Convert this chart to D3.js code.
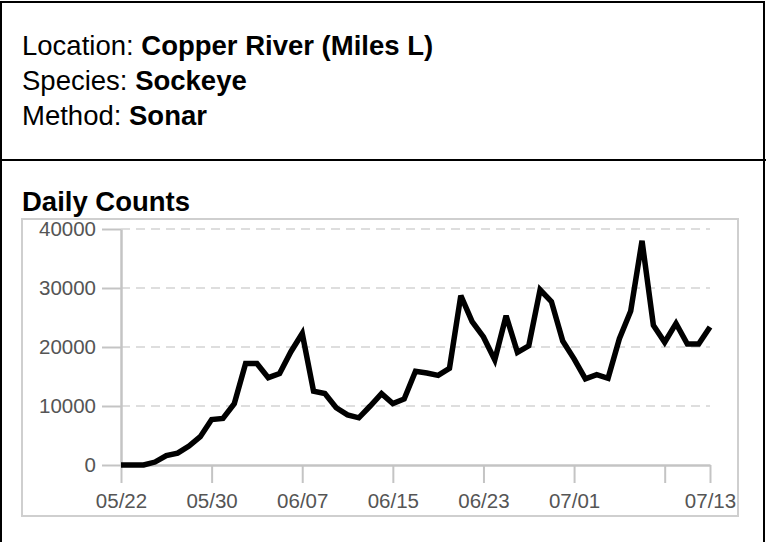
<!DOCTYPE html>
<html>
<head>
<meta charset="utf-8">
<script src="https://cdn.jsdelivr.net/npm/d3@7"></script>
<style>
  html, body { margin: 0; padding: 0; background: #fff; }
  svg { display: block; }
  text { font-family: "Liberation Sans", Arial, Helvetica, sans-serif; }
</style>
</head>
<body>
<svg id="chart" width="766" height="542"></svg>
<script>
// ---- data ----
const dates = [
  "2019-05-22","2019-05-23","2019-05-24","2019-05-25","2019-05-26","2019-05-27","2019-05-28",
  "2019-05-29","2019-05-30","2019-05-31","2019-06-01","2019-06-02","2019-06-03","2019-06-04",
  "2019-06-05","2019-06-06","2019-06-07","2019-06-08","2019-06-09","2019-06-10","2019-06-11",
  "2019-06-12","2019-06-13","2019-06-14","2019-06-15","2019-06-16","2019-06-17","2019-06-18",
  "2019-06-19","2019-06-20","2019-06-21","2019-06-22","2019-06-23","2019-06-24","2019-06-25",
  "2019-06-26","2019-06-27","2019-06-28","2019-06-29","2019-06-30","2019-07-01","2019-07-02",
  "2019-07-03","2019-07-04","2019-07-05","2019-07-06","2019-07-07","2019-07-08","2019-07-09",
  "2019-07-10","2019-07-11","2019-07-12","2019-07-13"
];
const counts = [
  0, 0, 0, 500, 1600, 2000, 3200,
  4800, 7700, 7900, 10400, 17200, 17200, 14800,
  15500, 19200, 22300, 12500, 12100, 9700, 8500,
  8000, 10000, 12100, 10400, 11200, 15900, 15600,
  15200, 16400, 28700, 24300, 21700, 17800, 25300,
  19100, 20200, 29700, 27700, 21000, 18000, 14600,
  15300, 14700, 21400, 26100, 38000, 23700, 20800,
  24000, 20500, 20500, 23400
];
const xTickDates = ["2019-05-22","2019-05-30","2019-06-07","2019-06-15","2019-06-23","2019-07-01","2019-07-09","2019-07-13"];
const xTickLabels = ["05/22","05/30","06/07","06/15","06/23","07/01","","07/13"];
const yTicks = [0, 10000, 20000, 30000, 40000];
const headerLines = [
  ["Location: ", "Copper River (Miles L)"],
  ["Species: ", "Sockeye"],
  ["Method: ", "Sonar"]
];
const chartTitle = "Daily Counts";

// ---- drawing ----
const parse = d3.timeParse("%Y-%m-%d");
const data = dates.map((d, i) => ({ date: parse(d), value: counts[i] }));
const svg = d3.select("#chart");

// outer black frame and separator
svg.append("rect").attr("x", 1).attr("y", 2).attr("width", 763).attr("height", 600)
  .attr("fill", "none").attr("stroke", "#000").attr("stroke-width", 2);
svg.append("line").attr("x1", 0).attr("x2", 766).attr("y1", 160).attr("y2", 160)
  .attr("stroke", "#000").attr("stroke-width", 2);

// header text
headerLines.forEach((ln, i) => {
  const t = svg.append("text").attr("x", 22).attr("y", 55 + i * 35)
    .attr("font-size", 27.5).attr("fill", "#000");
  t.append("tspan").text(ln[0]);
  t.append("tspan").attr("font-weight", "bold").text(ln[1]);
});

svg.append("text").attr("x", 22).attr("y", 211).attr("font-size", 27.5)
  .attr("font-weight", "bold").attr("fill", "#000").text(chartTitle);

// chart panel frame
svg.append("rect").attr("x", 22).attr("y", 219).attr("width", 716).attr("height", 297)
  .attr("fill", "none").attr("stroke", "#cfcfcf").attr("stroke-width", 2);

const x = d3.scaleTime().domain([parse(dates[0]), parse(dates[dates.length - 1])]).range([121, 710]);
const y = d3.scaleLinear().domain([0, 40000]).range([465, 229]);

// gridlines
svg.append("g").selectAll("line").data(yTicks.filter(v => v > 0)).join("line")
  .attr("x1", 121).attr("x2", 710)
  .attr("y1", d => y(d)).attr("y2", d => y(d))
  .attr("stroke", "#d4d4d4").attr("stroke-width", 1.5).attr("stroke-dasharray", "9,6");

// axes
const axisColor = "#c4c4c4";
const yAxis = svg.append("g").attr("transform", "translate(121,0)")
  .call(d3.axisLeft(y).tickValues(yTicks).tickFormat(d3.format("d")).tickSize(19).tickSizeOuter(0).tickPadding(6));
const xAxis = svg.append("g").attr("transform", "translate(0,465)")
  .call(d3.axisBottom(x).tickValues(xTickDates.map(parse))
    .tickFormat((d, i) => xTickLabels[i]).tickSize(18).tickSizeOuter(0).tickPadding(10));

[yAxis, xAxis].forEach(g => {
  g.select(".domain").attr("stroke", axisColor).attr("stroke-width", 2.5);
  g.selectAll(".tick line").attr("stroke", axisColor).attr("stroke-width", 2);
  g.selectAll(".tick text").attr("fill", "#555").attr("font-size", 20.5)
    .attr("font-family", "'Liberation Sans', Arial, sans-serif");
});

// data line
const line = d3.line().x(d => x(d.date)).y(d => y(d.value));
svg.append("path").datum(data).attr("d", line)
  .attr("fill", "none").attr("stroke", "#000").attr("stroke-width", 5.5)
  .attr("stroke-linejoin", "miter").attr("stroke-miterlimit", 3).attr("stroke-linecap", "butt");
</script>
</body>
</html>
